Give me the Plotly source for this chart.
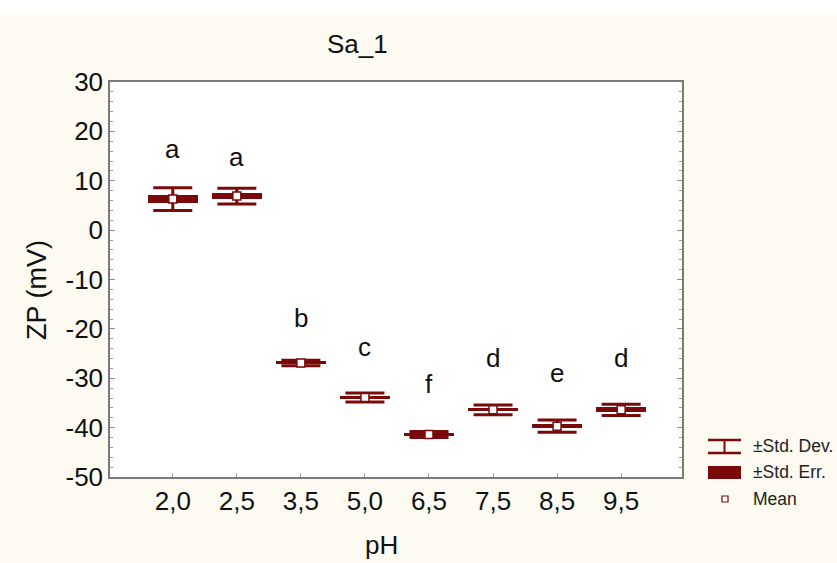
import plotly.graph_objects as go

# Zeta potential of sample Sa_1 at each pH
ph_levels = ["2,0", "2,5", "3,5", "5,0", "6,5", "7,5", "8,5", "9,5"]
zp_mean = [6.3, 6.9, -26.9, -33.9, -41.4, -36.4, -39.7, -36.4]
zp_std_dev = [2.3, 1.6, 0.55, 0.9, 0.6, 1.0, 1.25, 1.15]
zp_std_err = [0.75, 0.55, 0.3, 0.4, 0.3, 0.3, 0.4, 0.5]
groups = ["a", "a", "b", "c", "f", "d", "e", "d"]
y_ticks = [-50, -40, -30, -20, -10, 0, 10, 20, 30]

MAROON = "#7a0a0a"
CREAM = "#fcfaf1"
TEXT = "#111111"

# plot-area geometry in pixels (used for converting legend/title positions)
W, H = 837, 563
L, R, T, B = 110, 682, 82, 477


def xp(px):
    return (px - L) / (R - L)


def yp(py):
    return (B - py) / (B - T)


fig = go.Figure()

# ±Std. Err. boxes
fig.add_trace(go.Bar(
    x=ph_levels,
    y=[2 * e for e in zp_std_err],
    base=[m - e for m, e in zip(zp_mean, zp_std_err)],
    width=0.78,
    marker=dict(color=MAROON, line=dict(width=0)),
    hoverinfo="skip",
    showlegend=False,
))

# Means with ±Std. Dev. whiskers
fig.add_trace(go.Scatter(
    x=ph_levels,
    y=zp_mean,
    mode="markers",
    marker=dict(symbol="square", size=8, color="white",
                line=dict(color=MAROON, width=1.5)),
    error_y=dict(type="data", array=zp_std_dev, visible=True,
                 color=MAROON, thickness=3, width=19.5),
    showlegend=False,
))

# Homogeneous-group letters above each whisker
label_y = [16.4, 14.8, -17.8, -23.7, -31.2, -25.9, -28.9, -25.9]
for cat, g, ly in zip(ph_levels, groups, label_y):
    fig.add_annotation(x=cat, y=ly, text=g, showarrow=False,
                       font=dict(size=26, color=TEXT))

# Title and axis titles
fig.add_annotation(xref="paper", yref="paper", x=xp(357), y=yp(44),
                   xanchor="center", yanchor="middle",
                   text="Sa_1", showarrow=False,
                   font=dict(size=26, color=TEXT))
fig.add_annotation(xref="paper", yref="paper", x=xp(381), y=yp(545),
                   xanchor="center", yanchor="middle",
                   text="pH", showarrow=False,
                   font=dict(size=26, color=TEXT))
fig.add_annotation(xref="paper", yref="paper", x=xp(37), y=yp(290),
                   xanchor="center", yanchor="middle", textangle=-90,
                   text="ZP (mV)", showarrow=False,
                   font=dict(size=27, color=TEXT))

# Legend drawn by hand
shapes = [
    # white strip at the very top of the page
    dict(type="rect", xref="paper", yref="paper",
         x0=xp(0), x1=xp(W), y0=yp(13), y1=yp(0),
         fillcolor="white", line=dict(width=0), layer="below"),
    # Std. Dev. icon
    dict(type="line", xref="paper", yref="paper",
         x0=xp(708), x1=xp(741), y0=yp(440), y1=yp(440),
         line=dict(color=MAROON, width=2.5)),
    dict(type="line", xref="paper", yref="paper",
         x0=xp(708), x1=xp(741), y0=yp(453), y1=yp(453),
         line=dict(color=MAROON, width=2.5)),
    dict(type="line", xref="paper", yref="paper",
         x0=xp(724.5), x1=xp(724.5), y0=yp(440), y1=yp(453),
         line=dict(color=MAROON, width=2)),
    # Std. Err. icon
    dict(type="rect", xref="paper", yref="paper",
         x0=xp(708), x1=xp(741), y0=yp(479), y1=yp(466),
         fillcolor=MAROON, line=dict(width=0)),
    # Mean icon
    dict(type="rect", xref="paper", yref="paper",
         x0=xp(722), x1=xp(728), y0=yp(502), y1=yp(496),
         fillcolor="white", line=dict(color=MAROON, width=1.2)),
]
for txt, py in [("±Std. Dev.", 446), ("±Std. Err.", 472), ("Mean", 499)]:
    fig.add_annotation(xref="paper", yref="paper", x=xp(751), y=yp(py),
                       xanchor="left", yanchor="middle",
                       text=txt, showarrow=False,
                       font=dict(size=17.5, color="#222222"))

fig.update_layout(
    width=W, height=H,
    margin=dict(l=L, r=W - R, t=T, b=H - B, pad=0),
    paper_bgcolor=CREAM,
    plot_bgcolor="white",
    font=dict(family="Liberation Sans, Arial, sans-serif", color=TEXT),
    shapes=shapes,
    bargap=0,
)

fig.update_xaxes(
    type="category",
    range=[-0.98, 7.95],
    showline=True, linecolor="#7a7a7a", linewidth=1.5, mirror=True,
    ticks="inside", ticklen=4, tickcolor="#9a9a9a",
    showgrid=False, zeroline=False,
    tickfont=dict(size=26),
)

fig.update_yaxes(
    range=[-50, 30],
    tickvals=y_ticks,
    ticktext=[str(v) for v in y_ticks],
    showline=True, linecolor="#7a7a7a", linewidth=1.5, mirror="ticks",
    ticks="inside", ticklen=5, tickcolor="#8a8a8a",
    minor=dict(ticks="inside", dtick=2, ticklen=3, tickcolor="#9a9a9a"),
    showgrid=False, zeroline=False,
    tickfont=dict(size=26),
)

fig.write_html("out.html")
